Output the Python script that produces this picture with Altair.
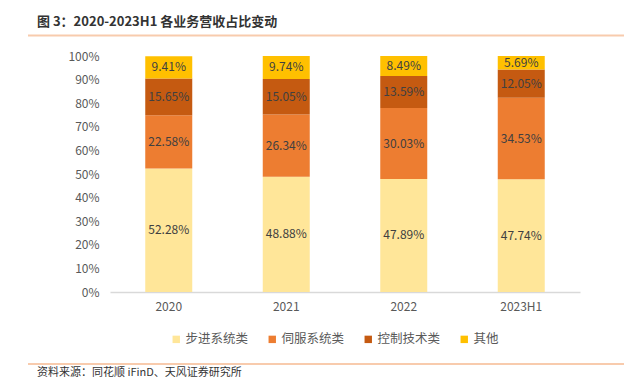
import altair as alt
import pandas as pd

years = ["2020", "2021", "2022", "2023H1"]
series = ["步进系统类", "伺服系统类", "控制技术类", "其他"]
colors = ["#FFE699", "#ED7D31", "#C55A11", "#FFC000"]
stepper = [52.28, 48.88, 47.89, 47.74]
servo = [22.58, 26.34, 30.03, 34.53]
control = [15.65, 15.05, 13.59, 12.05]
other = [9.41, 9.74, 8.49, 5.69]
ytick_values = [0, 10, 20, 30, 40, 50, 60, 70, 80, 90, 100]

title_text = "图 3：2020-2023H1 各业务营收占比变动"
source_text = "资料来源：同花顺 iFinD、天风证券研究所"
FONT = "Noto Sans CJK SC"

rows = []
for s_i, (name, vals) in enumerate(zip(series, [stepper, servo, control, other])):
    for y, v in zip(years, vals):
        rows.append({"year": y, "series": name, "idx": s_i, "value": v})
df = pd.DataFrame(rows)

W, H = 470, 236

base = alt.Chart(df).transform_stack(
    stack="value", groupby=["year"], as_=["v0", "v1"], sort=[alt.SortField("idx", order="ascending")]
).transform_calculate(
    mid="(datum.v0 + datum.v1) / 2",
    label="format(datum.value, '.2f') + '%'"
)

yaxis = alt.Axis(values=ytick_values, labelExpr="datum.value + '%'",
                 labelOverlap=False, labelBound=False,
                 grid=False, domain=False, ticks=False, labelColor="#595959",
                 labelFontSize=12, labelFont=FONT, labelPadding=11)
xaxis = alt.Axis(labelAngle=0, ticks=False, domainColor="#D9D9D9", domainWidth=1.5,
                 labelColor="#595959", labelFontSize=12, labelFont=FONT, labelPadding=9)
xscale = alt.Scale(paddingInner=0.6, paddingOuter=0.3)
yscale = alt.Scale(domain=[0, 100], nice=False)

bars = base.mark_bar().encode(
    x=alt.X("year:N", sort=years, title=None, scale=xscale, axis=xaxis),
    y=alt.Y("v0:Q", title=None, scale=yscale, axis=yaxis),
    y2="v1:Q",
    color=alt.Color("series:N", sort=series,
                    scale=alt.Scale(domain=series, range=colors),
                    legend=alt.Legend(title=None, orient="none", direction="horizontal",
                                      legendX=60, legendY=277, symbolType="square",
                                      symbolSize=55, symbolStrokeWidth=0, labelFontSize=12.5,
                                      labelFont=FONT, labelColor="#595959", columnPadding=17,
                                      labelOffset=3)),
    order=alt.Order("idx:Q"),
)

labels = base.mark_text(font=FONT, fontSize=12, color="#404040").encode(
    x=alt.X("year:N", sort=years, title=None, scale=xscale, axis=xaxis),
    y=alt.Y("mid:Q", title=None, scale=yscale, axis=yaxis),
    text="label:N",
)

title = alt.Chart(pd.DataFrame({"t": [title_text]})).mark_text(
    align="left", baseline="middle", font=FONT, fontSize=13, fontWeight="bold", color="#333333"
).encode(x=alt.value(-73), y=alt.value(-34), text="t:N")

top_line = alt.Chart(pd.DataFrame({"a": [0]})).mark_rule(color="#F8CBAD", strokeWidth=2).encode(
    x=alt.value(-82), x2=alt.value(517), y=alt.value(-20.5))

bottom_line = alt.Chart(pd.DataFrame({"a": [0]})).mark_rule(color="#F8CBAD", strokeWidth=2).encode(
    x=alt.value(-82), x2=alt.value(517), y=alt.value(308))

source = alt.Chart(pd.DataFrame({"t": [source_text]})).mark_text(
    align="left", baseline="middle", font=FONT, fontSize=11, color="#333333"
).encode(x=alt.value(-73), y=alt.value(317), text="t:N")

chart = alt.layer(bars, labels, title, top_line, bottom_line, source).properties(
    width=W, height=H,
    background="white",
    autosize=alt.AutoSizeParams(type="none"),
    padding={"left": 102, "top": 48, "right": 44, "bottom": 88},
).configure_view(strokeWidth=0)

chart.save("out.html", embed_options={"renderer": "svg", "actions": False})
